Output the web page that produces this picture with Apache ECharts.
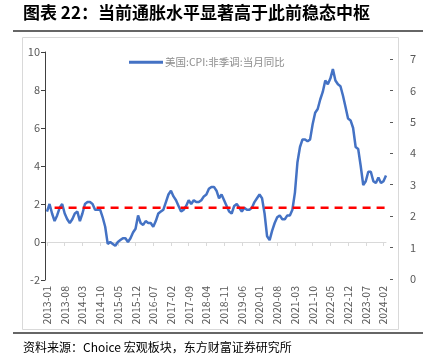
<!DOCTYPE html>
<html><head><meta charset="utf-8">
<script src="https://cdn.jsdelivr.net/npm/echarts@6/dist/echarts.min.js"></script>
<style>html,body{margin:0;padding:0;background:#fff}#c{width:423px;height:362px}</style>
</head><body><div id="c"></div>
<script>
var startYear = 2013, startMonth = 1;
var cpiYoY = [
 1.6,2.0,1.5,1.1,1.4,1.8,2.0,1.5,1.2,1.0,1.2,1.5,
 1.6,1.1,1.5,2.0,2.1,2.1,2.0,1.7,1.7,1.7,1.3,0.8,
 -0.1,0.0,-0.1,-0.2,0.0,0.1,0.2,0.2,0.0,0.2,0.5,0.7,
 1.4,1.0,0.9,1.1,1.0,1.0,0.8,1.1,1.5,1.6,1.7,2.1,
 2.5,2.7,2.4,2.2,1.9,1.6,1.7,1.9,2.2,2.0,2.2,2.1,
 2.1,2.2,2.4,2.5,2.8,2.9,2.9,2.7,2.3,2.5,2.2,1.9,
 1.6,1.5,1.9,2.0,1.8,1.6,1.8,1.7,1.7,1.8,2.1,2.3,
 2.5,2.3,1.5,0.3,0.1,0.6,1.0,1.3,1.4,1.2,1.2,1.4,
 1.4,1.7,2.6,4.2,5.0,5.4,5.4,5.3,5.4,6.2,6.8,7.0,
 7.5,7.9,8.5,8.3,8.6,9.1,8.5,8.3,8.2,7.7,7.1,6.5,
 6.4,6.0,5.0,4.9,4.0,3.0,3.2,3.7,3.7,3.2,3.1,3.4,
 3.1,3.2,3.5
];
var steadyLevel = 1.8;
var steadyStartIndex = 3;
var leftTicks = {min: -2, max: 10, interval: 2};
var rightTicks = {min: 0, max: 7, interval: 1};
var legendName = '美国:CPI:非季调:当月同比';
var titleText = '图表 22：当前通胀水平显著高于此前稳态中枢';
var sourceText = '资料来源：Choice 宏观板块，东方财富证券研究所';

var categories = [];
for (var i = 0; i < cpiYoY.length; i++) {
  var m = startMonth - 1 + i;
  var y = startYear + Math.floor(m / 12);
  var mm = (m % 12) + 1;
  categories.push(y + '-' + (mm < 10 ? '0' + mm : mm));
}
var steadyLine = categories.map(function (c, i) { return i >= steadyStartIndex ? steadyLevel : null; });

var chart = echarts.init(document.getElementById('c'), null, {renderer: 'canvas'});
var font = '"Noto Sans CJK SC", "Noto Sans", sans-serif';
chart.setOption({
  animation: false,
  textStyle: {fontFamily: font},
  graphic: [
    {type: 'text', left: 23, top: 4, style: {text: titleText, font: 'bold 17px ' + font, fill: '#000'}},
    {type: 'line', shape: {x1: 13, y1: 31, x2: 423, y2: 31}, style: {stroke: '#333', lineWidth: 1.5}},
    {type: 'rect', shape: {x: 22.5, y: 37.5, width: 376, height: 292}, style: {fill: null, stroke: '#d9d9d9', lineWidth: 1}},
    {type: 'line', shape: {x1: 13, y1: 333, x2: 423, y2: 333}, style: {stroke: '#333', lineWidth: 1.5}},
    {type: 'text', left: 23, top: 341, style: {text: sourceText, font: '12px ' + font, fill: '#000'}}
  ],
  legend: {
    data: [legendName], left: 124, top: 52, itemWidth: 34, itemHeight: 3, itemGap: 4,
    icon: 'rect',
    textStyle: {color: '#8c8c8c', fontSize: 10.5, fontFamily: font, padding: [0, 0, 0, -3]}
  },
  grid: [
    {left: 47, top: 52, width: 339, height: 228},
    {right: 0, top: 59, height: 220, width: 30}
  ],
  xAxis: [
    {type: 'category', gridIndex: 0, data: categories, boundaryGap: false, position: 'bottom',
     axisLine: {show: false, onZero: false}, axisTick: {show: false},
     axisLabel: {interval: 6, rotate: 90, color: '#595959', fontSize: 10.5, margin: 6}},
    {type: 'category', gridIndex: 0, data: categories, boundaryGap: false, position: 'bottom',
     axisLine: {show: true, onZero: true, lineStyle: {color: '#d9d9d9', width: 1}},
     axisTick: {show: true, interval: 6, length: 4, lineStyle: {color: '#d9d9d9'}},
     axisLabel: {show: false}},
    {type: 'value', gridIndex: 1, show: false, min: 0, max: 1}
  ],
  yAxis: [
    {type: 'value', gridIndex: 0, min: leftTicks.min, max: leftTicks.max, interval: leftTicks.interval, offset: 2,
     axisLine: {show: true, lineStyle: {color: '#404040', width: 1}},
     axisTick: {show: true, length: 4, lineStyle: {color: '#404040'}},
     axisLabel: {color: '#595959', fontSize: 11, margin: 5},
     splitLine: {show: false}},
    {type: 'value', gridIndex: 1, position: 'right', min: rightTicks.min, max: rightTicks.max, interval: rightTicks.interval,
     axisLine: {show: false},
     axisTick: {show: true, inside: true, length: 3, lineStyle: {color: '#595959'}},
     axisLabel: {inside: true, color: '#595959', fontSize: 11, margin: 7},
     splitLine: {show: false}}
  ],
  series: [
    {name: legendName, type: 'line', xAxisIndex: 0, yAxisIndex: 0, data: cpiYoY, showSymbol: false,
     lineStyle: {color: '#4472C4', width: 2.5}, itemStyle: {color: '#4472C4'}},
    {name: 'steady', type: 'line', xAxisIndex: 0, yAxisIndex: 0, data: steadyLine, showSymbol: false,
     lineStyle: {color: '#FF0000', width: 2.5, type: [8, 6]}, itemStyle: {color: '#FF0000'}}
  ]
});
</script></body></html>
